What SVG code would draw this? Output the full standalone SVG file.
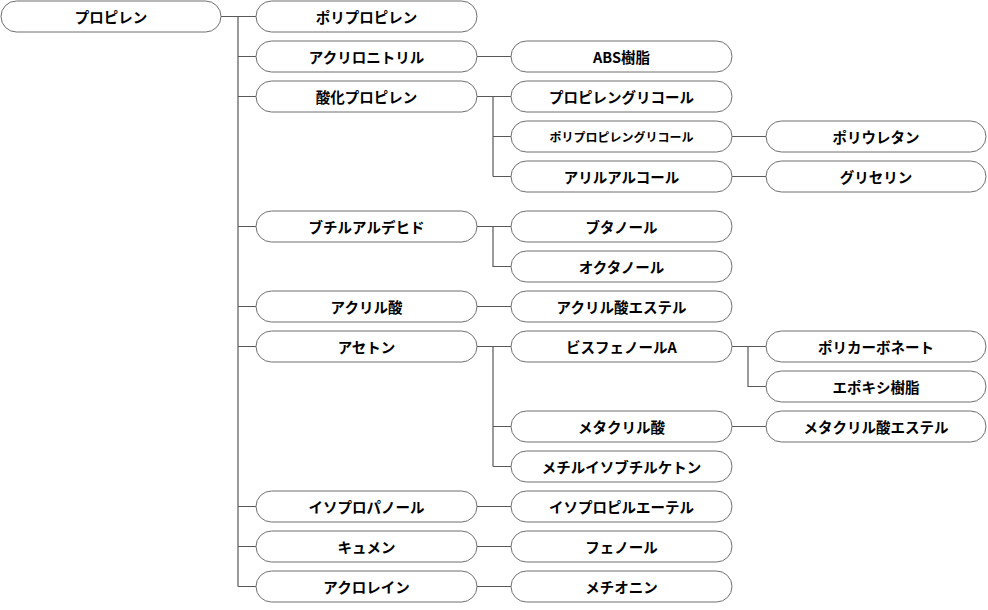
<svg xmlns="http://www.w3.org/2000/svg" width="988" height="610" viewBox="0 0 988 610">
<style>
.n{fill:#fff;stroke:#6e6e6e;stroke-width:1}
.t{font-family:"Noto Sans CJK JP","Liberation Sans",sans-serif;font-weight:bold;font-size:14.5px;fill:#000;text-anchor:middle;dominant-baseline:central}
.s{font-size:12px}
.c{fill:none;stroke:#595959;stroke-width:1.2}
</style>
<rect width="988" height="610" fill="#fff"/>
<g id="connectors">
<path class="c" d="M221,16.5H256M238,16.5V586.5M238,56.5H256M238,96.5H256M238,226.5H256M238,306.5H256M238,346.5H256M238,506.5H256M238,546.5H256M238,586.5H256"/>
<path class="c" d="M477,56.5H511"/>
<path class="c" d="M477,96.5H511M493,96.5V176.5M493,136.5H511M493,176.5H511"/>
<path class="c" d="M477,226.5H511M493,226.5V266.5H511"/>
<path class="c" d="M477,306.5H511"/>
<path class="c" d="M477,346.5H511M493,346.5V466.5M493,426.5H511M493,466.5H511"/>
<path class="c" d="M477,506.5H511M477,546.5H511M477,586.5H511"/>
<path class="c" d="M732,136.5H766M732,176.5H766"/>
<path class="c" d="M732,346.5H766M748,346.5V386.5H766"/>
<path class="c" d="M732,426.5H766"/>
</g>
<g id="n1"><rect class="n" x="1" y="1" width="220" height="31" rx="15.5"/><text class="t" x="111" y="16.5">プロピレン</text></g>
<g id="n2"><rect class="n" x="256" y="1" width="221" height="31" rx="15.5"/><text class="t" x="366.5" y="16.5">ポリプロピレン</text></g>
<g id="n3"><rect class="n" x="256" y="41" width="221" height="31" rx="15.5"/><text class="t" x="366.5" y="56.5">アクリロニトリル</text></g>
<g id="n4"><rect class="n" x="256" y="81" width="221" height="31" rx="15.5"/><text class="t" x="366.5" y="96.5">酸化プロピレン</text></g>
<g id="n5"><rect class="n" x="256" y="211" width="221" height="31" rx="15.5"/><text class="t" x="366.5" y="226.5">ブチルアルデヒド</text></g>
<g id="n6"><rect class="n" x="256" y="291" width="221" height="31" rx="15.5"/><text class="t" x="366.5" y="306.5">アクリル酸</text></g>
<g id="n7"><rect class="n" x="256" y="331" width="221" height="31" rx="15.5"/><text class="t" x="366.5" y="346.5">アセトン</text></g>
<g id="n8"><rect class="n" x="256" y="491" width="221" height="31" rx="15.5"/><text class="t" x="366.5" y="506.5">イソプロパノール</text></g>
<g id="n9"><rect class="n" x="256" y="531" width="221" height="31" rx="15.5"/><text class="t" x="366.5" y="546.5">キュメン</text></g>
<g id="n10"><rect class="n" x="256" y="571" width="221" height="31" rx="15.5"/><text class="t" x="366.5" y="586.5">アクロレイン</text></g>
<g id="n11"><rect class="n" x="511" y="41" width="221" height="31" rx="15.5"/><text class="t" x="621.5" y="56.5">ABS樹脂</text></g>
<g id="n12"><rect class="n" x="511" y="81" width="221" height="31" rx="15.5"/><text class="t" x="621.5" y="96.5">プロピレングリコール</text></g>
<g id="n13"><rect class="n" x="511" y="121" width="221" height="31" rx="15.5"/><text class="t s" x="621.5" y="136.5">ポリプロピレングリコール</text></g>
<g id="n14"><rect class="n" x="511" y="161" width="221" height="31" rx="15.5"/><text class="t" x="621.5" y="176.5">アリルアルコール</text></g>
<g id="n15"><rect class="n" x="511" y="211" width="221" height="31" rx="15.5"/><text class="t" x="621.5" y="226.5">ブタノール</text></g>
<g id="n16"><rect class="n" x="511" y="251" width="221" height="31" rx="15.5"/><text class="t" x="621.5" y="266.5">オクタノール</text></g>
<g id="n17"><rect class="n" x="511" y="291" width="221" height="31" rx="15.5"/><text class="t" x="621.5" y="306.5">アクリル酸エステル</text></g>
<g id="n18"><rect class="n" x="511" y="331" width="221" height="31" rx="15.5"/><text class="t" x="621.5" y="346.5">ビスフェノールA</text></g>
<g id="n19"><rect class="n" x="511" y="411" width="221" height="31" rx="15.5"/><text class="t" x="621.5" y="426.5">メタクリル酸</text></g>
<g id="n20"><rect class="n" x="511" y="451" width="221" height="31" rx="15.5"/><text class="t" x="621.5" y="466.5">メチルイソブチルケトン</text></g>
<g id="n21"><rect class="n" x="511" y="491" width="221" height="31" rx="15.5"/><text class="t" x="621.5" y="506.5">イソプロピルエーテル</text></g>
<g id="n22"><rect class="n" x="511" y="531" width="221" height="31" rx="15.5"/><text class="t" x="621.5" y="546.5">フェノール</text></g>
<g id="n23"><rect class="n" x="511" y="571" width="221" height="31" rx="15.5"/><text class="t" x="621.5" y="586.5">メチオニン</text></g>
<g id="n24"><rect class="n" x="766" y="121" width="220" height="31" rx="15.5"/><text class="t" x="876" y="136.5">ポリウレタン</text></g>
<g id="n25"><rect class="n" x="766" y="161" width="220" height="31" rx="15.5"/><text class="t" x="876" y="176.5">グリセリン</text></g>
<g id="n26"><rect class="n" x="766" y="331" width="220" height="31" rx="15.5"/><text class="t" x="876" y="346.5">ポリカーボネート</text></g>
<g id="n27"><rect class="n" x="766" y="371" width="220" height="31" rx="15.5"/><text class="t" x="876" y="386.5">エポキシ樹脂</text></g>
<g id="n28"><rect class="n" x="766" y="411" width="220" height="31" rx="15.5"/><text class="t" x="876" y="426.5">メタクリル酸エステル</text></g>
</svg>
